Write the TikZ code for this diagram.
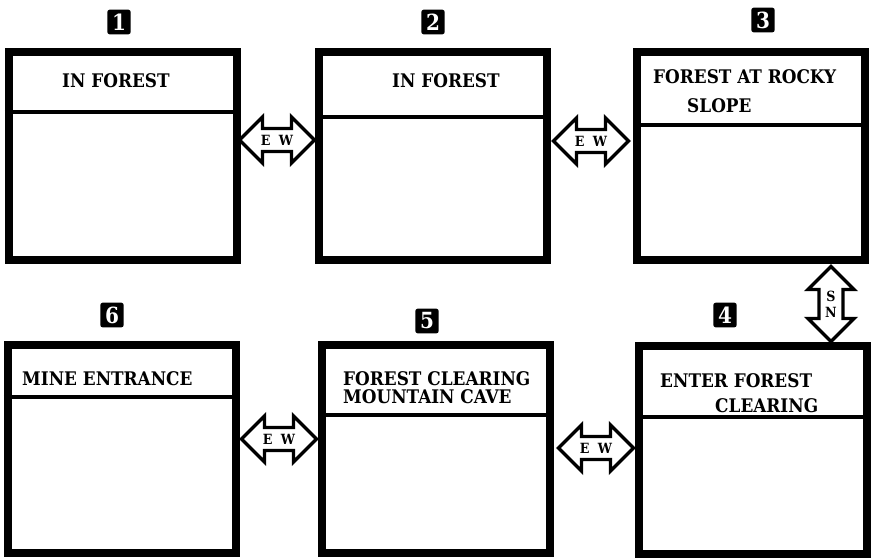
\documentclass[tikz,border=0pt]{standalone}
\usepackage{fontspec}
\setmainfont{DejaVu Serif Condensed}
\usepackage{tikz}
\usetikzlibrary{shapes.arrows, positioning, calc}
\tikzset{
  room/.style={rectangle, draw, line width=2.4mm, minimum width=68.4mm, minimum height=62.4mm, inner sep=0pt},
  divider/.style={line width=1.3mm},
  title/.style={anchor=base west, inner sep=0pt, font=\fontsize{16}{16}\selectfont\bfseries},
  roomnum/.style={fill=black, text=white, rounded corners=2pt, inner sep=1pt, minimum width=7mm, minimum height=7.4mm, font=\fontsize{19}{19}\selectfont\bfseries},
  door/.style={double arrow, draw, line width=1mm, minimum height=22.5mm, minimum width=13.8mm, double arrow head extend=2.4mm, inner sep=1pt, font=\fontsize{12}{12}\selectfont\bfseries},
}

\begin{document}
\begin{tikzpicture}[x=0.3mm, y=-0.3mm]
  \useasboundingbox (0,0) rectangle (873,557);

  % Rooms
  \foreach \n/\x/\y in {1/123/156, 2/433/156, 3/751/156, 6/122/449, 5/436/449, 4/753/450} {
    \node[room] (r\n) at (\x,\y) {};
  }

  % Room numbers
  \foreach \n/\x/\y in {1/119/22, 2/433/22, 3/763/20, 6/112/315, 5/427/321, 4/725/315} {
    \node[roomnum] (n\n) at (\x,\y) {\n};
  }

  % Title bars
  \foreach \n/\y in {1/112, 2/117, 3/125, 6/397, 5/415, 4/417} {
    \draw[divider] (r\n.west |- 0,\y) -- (r\n.east |- 0,\y);
  }

  % Titles
  \node[title] (t1) at (62,87) {IN FOREST};
  \node[title] (t2) at (392,87) {IN FOREST};
  \node[title] (t3a) at (653,83) {FOREST AT ROCKY};
  \node[title] (t3b) at (687,112) {SLOPE};
  \node[title] (t6) at (22,385) {MINE ENTRANCE};
  \node[title] (t5a) at (343,385) {FOREST CLEARING};
  \node[title] (t5b) at (343,403) {MOUNTAIN CAVE};
  \node[title] (t4a) at (660,387) {ENTER FOREST};
  \node[title] (t4b) at (715,412) {CLEARING};

  % Exits between rooms
  \node[door] (d12) at (277,140) {E\hspace{.6em}W};
  \node[door] (d23) at (591,141) {E\hspace{.6em}W};
  \node[door] (d65) at (279,439) {E\hspace{.6em}W};
  \node[door] (d54) at (596,448) {E\hspace{.6em}W};
  \node[door, shape border rotate=90, align=center] (d34) at (831,304) {S\\[2pt]N};
\end{tikzpicture}
\end{document}
